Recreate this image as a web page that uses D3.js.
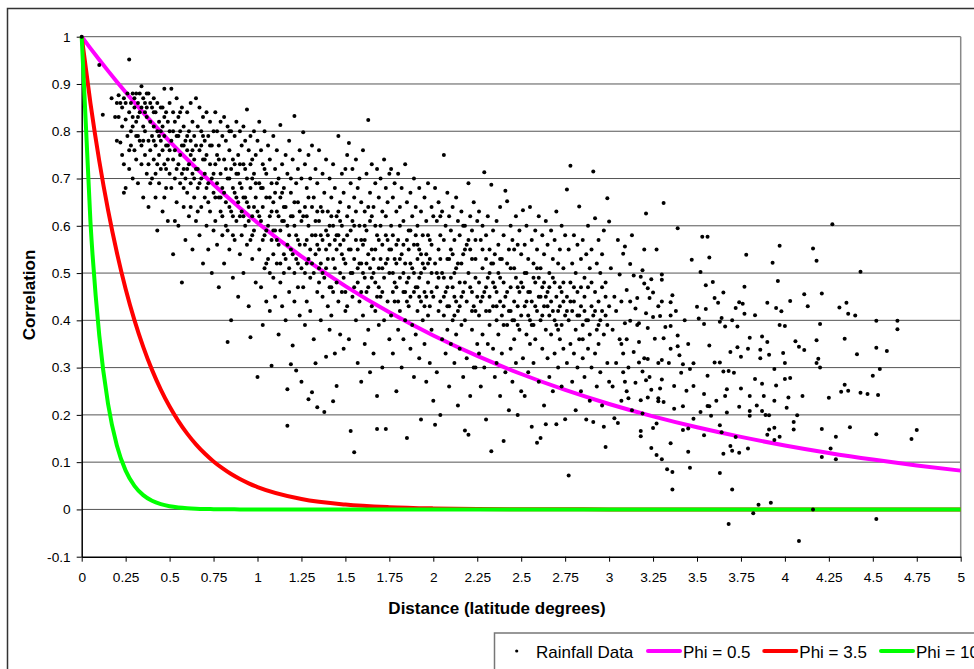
<!DOCTYPE html>
<html>
<head>
<meta charset="utf-8">
<script src="https://cdn.jsdelivr.net/npm/d3@7"></script>
<style>
body { margin: 0; background: #fff; }
svg { display: block; }
text { font-family: Arial, "Liberation Sans", sans-serif; fill: #000; }
</style>
</head>
<body>
<script>
const width = 974;
const height = 669;

const xTicks = [0, 0.25, 0.5, 0.75, 1, 1.25, 1.5, 1.75, 2, 2.25, 2.5, 2.75, 3, 3.25, 3.5, 3.75, 4, 4.25, 4.5, 4.75, 5];
const yTicks = [-0.1, 0, 0.1, 0.2, 0.3, 0.4, 0.5, 0.6, 0.7, 0.8, 0.9, 1];

// fitted curves at these distances
const curveDist = [0, 0.05, 0.1, 0.15, 0.2, 0.25, 0.3, 0.35, 0.4, 0.45, 0.5, 0.55, 0.6, 0.65, 0.7, 0.75, 0.8, 0.85, 0.9, 0.95, 1,
  1.25, 1.5, 1.75, 2, 2.25, 2.5, 2.75, 3, 3.25, 3.5, 3.75, 4, 4.25, 4.5, 4.75, 5];
const phi05 = [1, 0.9753, 0.9512, 0.9277, 0.9048, 0.8825, 0.8607, 0.8395, 0.8187, 0.7985, 0.7788, 0.7596, 0.7408, 0.7225, 0.7047, 0.6873, 0.6703, 0.6538, 0.6376, 0.6219, 0.6065,
  0.5353, 0.4724, 0.4169, 0.3679, 0.3247, 0.2865, 0.2528, 0.2231, 0.1969, 0.1738, 0.1534, 0.1353, 0.1194, 0.1054, 0.093, 0.0821];
const phi35 = [1, 0.8586, 0.7371, 0.6329, 0.5434, 0.4665, 0.4005, 0.3439, 0.2952, 0.2535, 0.2176, 0.1869, 0.1604, 0.1377, 0.1182, 0.1015, 0.0872, 0.0748, 0.0643, 0.0552, 0.0474,
  0.0221, 0.0103, 0.0048, 0.0022, 0.001, 0.0005, 0.0002, 0.0001, 0, 0, 0, 0, 0, 0, 0, 0];
const phi10 = [1, 0.6065, 0.3679, 0.2231, 0.1353, 0.0821, 0.0498, 0.0302, 0.0183, 0.0111, 0.0067, 0.0041, 0.0025, 0.0015, 0.0009, 0.0006, 0.0003, 0.0002, 0.0001, 0.0001, 0,
  0, 0, 0, 0, 0, 0, 0, 0, 0, 0, 0, 0, 0, 0, 0, 0];

// rainfall correlations [distance, correlation]
const rainNear = [
[0,1],[0.1,0.94],[0.12,0.835],[0.17,0.87],[0.19,0.83],[0.2,0.78],
[0.2,0.86],[0.21,0.876],[0.21,0.83],[0.22,0.776],[0.22,0.86],[0.23,0.85],[0.23,0.81],[0.24,0.87],[0.24,0.67],[0.24,0.73],[0.25,0.825],[0.25,0.68],[0.23,0.75],[0.25,0.86],
[0.26,0.88],[0.26,0.79],[0.27,0.952],[0.27,0.84],[0.27,0.72],[0.28,0.86],[0.28,0.8],[0.28,0.77],[0.29,0.88],[0.29,0.83],[0.29,0.7],[0.3,0.87],[0.3,0.85],[0.3,0.76],[0.31,0.88],[0.31,0.82],[0.31,0.74],[0.32,0.86],[0.32,0.79],[0.32,0.69],
[0.33,0.88],[0.33,0.84],[0.33,0.78],[0.34,0.895],[0.34,0.85],[0.34,0.73],[0.35,0.87],[0.35,0.81],[0.35,0.66],[0.36,0.86],[0.36,0.8],[0.36,0.75],[0.37,0.85],[0.37,0.83],[0.37,0.71],[0.38,0.88],[0.38,0.78],[0.38,0.64],[0.39,0.86],[0.39,0.82],
[0.39,0.76],[0.4,0.85],[0.4,0.79],[0.4,0.7],[0.41,0.87],[0.41,0.81],[0.41,0.74],[0.42,0.84],[0.42,0.77],[0.42,0.66],[0.43,0.86],[0.43,0.8],[0.43,0.59],[0.44,0.82],[0.44,0.75],[0.44,0.69],[0.45,0.85],[0.45,0.78],[0.45,0.72],[0.46,0.81],
[0.46,0.76],[0.46,0.63],[0.47,0.89],[0.47,0.79],[0.47,0.73],[0.48,0.84],[0.48,0.77],[0.48,0.68],[0.49,0.82],[0.49,0.74],[0.49,0.61],[0.5,0.86],[0.5,0.8],[0.5,0.71],[0.44,0.79],[0.38,0.73],[0.32,0.83],[0.47,0.66],[0.41,0.78],[0.36,0.84],
[0.29,0.81],[0.45,0.8],[0.49,0.77],[0.27,0.76],[0.42,0.71],
[0.51,0.89],[0.51,0.78],[0.51,0.68],[0.52,0.84],[0.52,0.74],[0.52,0.54],[0.53,0.82],[0.53,0.76],[0.53,0.7],[0.54,0.87],[0.54,0.79],[0.54,0.65],[0.55,0.83],[0.55,0.73],[0.55,0.6],[0.56,0.8],[0.56,0.75],[0.56,0.69],[0.57,0.85],[0.57,0.77],
[0.57,0.48],[0.58,0.81],[0.58,0.72],[0.58,0.64],[0.59,0.78],[0.59,0.7],[0.59,0.57],[0.6,0.84],[0.6,0.76],[0.6,0.67],[0.61,0.8],[0.61,0.73],[0.61,0.62],[0.62,0.86],[0.62,0.75],[0.62,0.69],[0.63,0.82],[0.63,0.71],[0.63,0.55],[0.64,0.79],
[0.64,0.74],[0.64,0.66],[0.65,0.87],[0.65,0.77],[0.65,0.61],[0.66,0.81],[0.66,0.72],[0.66,0.68],[0.67,0.85],[0.67,0.76],[0.67,0.58],[0.68,0.8],[0.68,0.7],[0.68,0.64],[0.69,0.83],[0.69,0.74],[0.69,0.52],[0.7,0.78],[0.7,0.71],[0.7,0.66],
[0.71,0.84],[0.71,0.75],[0.71,0.6],[0.72,0.79],[0.72,0.69],[0.72,0.55],[0.73,0.82],[0.73,0.73],[0.73,0.63],[0.74,0.77],[0.74,0.7],[0.74,0.5],[0.75,0.8],[0.75,0.67],[0.75,0.59],[0.53,0.61],[0.57,0.71],[0.62,0.78],[0.66,0.63],[0.7,0.74],
[0.55,0.79],[0.6,0.72],[0.64,0.7],[0.68,0.77],[0.72,0.65],
[0.76,0.84],[0.76,0.73],[0.76,0.61],[0.77,0.8],[0.77,0.69],[0.77,0.56],[0.78,0.77],[0.78,0.66],[0.78,0.47],[0.79,0.82],[0.79,0.71],[0.79,0.63],[0.8,0.79],[0.8,0.68],[0.8,0.58],[0.81,0.83],[0.81,0.74],[0.81,0.52],[0.82,0.78],[0.82,0.65],
[0.82,0.6],[0.83,0.81],[0.83,0.7],[0.83,0.354],[0.84,0.76],[0.84,0.64],[0.84,0.55],[0.85,0.8],[0.85,0.72],[0.85,0.4],[0.86,0.74],[0.86,0.62],[0.86,0.49],[0.87,0.79],[0.87,0.67],[0.87,0.57],[0.88,0.82],[0.88,0.71],[0.88,0.61],[0.89,0.75],
[0.89,0.65],[0.89,0.45],[0.9,0.8],[0.9,0.69],[0.9,0.54],[0.91,0.77],[0.91,0.63],[0.91,0.58],[0.92,0.81],[0.92,0.73],[0.92,0.5],[0.93,0.78],[0.93,0.66],[0.93,0.6],[0.94,0.846],[0.94,0.7],[0.94,0.56],[0.95,0.76],[0.95,0.64],[0.95,0.43],
[0.96,0.79],[0.96,0.68],[0.96,0.364],[0.97,0.74],[0.97,0.62],[0.97,0.53],[0.98,0.8],[0.98,0.71],[0.98,0.59],[0.99,0.75],[0.99,0.66],[0.99,0.48],[1,0.78],[1,0.63],[1,0.28],[0.78,0.74],[0.81,0.67],[0.84,0.7],[0.87,0.73],[0.9,0.62],
[0.93,0.72],[0.96,0.57],[0.99,0.69],[0.8,0.62],[0.86,0.68],[0.92,0.66],[0.97,0.7],[0.83,0.59],[0.89,0.71],[0.95,0.61],
[0.31,0.79],[0.34,0.77],[0.37,0.88],[0.39,0.69],[0.43,0.73],[0.46,0.85],[0.48,0.72],[0.5,0.76],[0.52,0.8],[0.54,0.72],[0.56,0.84],[0.58,0.68],[0.6,0.79],[0.63,0.76],[0.65,0.72],[0.67,0.69],[0.69,0.79],[0.71,0.68],[0.73,0.77],[0.75,0.71],
[0.77,0.75],[0.79,0.66],[0.82,0.72],[0.84,0.8],[0.86,0.58],[0.88,0.66],[0.9,0.73],[0.92,0.62],[0.94,0.65],[0.96,0.73],[0.98,0.64],[0.85,0.63],[0.91,0.68],[0.97,0.58],[0.76,0.66],[0.62,0.64],[0.47,0.83],[0.41,0.84],[0.35,0.78],[0.58,0.77]
];

const rainMid = [
[1.01,0.82],[1.01,0.69],[1.01,0.55],[1.02,0.76],[1.02,0.61],[1.02,0.47],[1.03,0.73],[1.03,0.64],[1.03,0.39],[1.04,0.8],[1.04,0.58],[1.04,0.51],[1.05,0.71],[1.05,0.66],[1.05,0.44],[1.06,0.77],[1.06,0.6],[1.06,0.53],[1.07,0.74],[1.07,0.62],
[1.07,0.42],[1.08,0.69],[1.08,0.57],[1.08,0.304],[1.09,0.79],[1.09,0.65],[1.09,0.49],[1.1,0.72],[1.1,0.59],[1.1,0.45],[1.11,0.76],[1.11,0.63],[1.11,0.52],[1.12,0.7],[1.12,0.56],[1.12,0.37],[1.13,0.813],[1.13,0.66],[1.13,0.48],[1.14,0.73],
[1.14,0.61],[1.14,0.43],[1.15,0.68],[1.15,0.54],[1.15,0.5],[1.16,0.75],[1.16,0.64],[1.16,0.4],[1.17,0.71],[1.17,0.254],[1.17,0.177],[1.18,0.78],[1.18,0.58],[1.18,0.46],[1.19,0.67],[1.19,0.55],[1.19,0.307],[1.2,0.74],[1.2,0.62],[1.2,0.347],
[1.21,0.832],[1.21,0.6],[1.21,0.44],[1.22,0.69],[1.22,0.53],[1.22,0.294],[1.23,0.72],[1.23,0.57],[1.23,0.47],[1.24,0.76],[1.24,0.63],[1.24,0.41],[1.25,0.7],[1.25,0.51],[1.25,0.27],[1.02,0.68],[1.05,0.59],[1.08,0.63],[1.11,0.57],[1.14,0.67],
[1.17,0.6],[1.2,0.54],[1.23,0.65],[1.04,0.72],[1.07,0.5],[1.1,0.67],[1.13,0.59],[1.16,0.53],[1.19,0.62],[1.22,0.58],[1.03,0.57],[1.09,0.54],[1.15,0.61],[1.21,0.5],[1.24,0.56],
[1.26,0.798],[1.26,0.62],[1.26,0.47],[1.27,0.73],[1.27,0.56],[1.27,0.39],[1.28,0.68],[1.28,0.52],[1.28,0.44],[1.29,0.75],[1.29,0.6],[1.29,0.233],[1.3,0.7],[1.3,0.55],[1.3,0.42],[1.31,0.77],[1.31,0.58],[1.31,0.248],[1.32,0.66],[1.32,0.5],
[1.32,0.36],[1.33,0.72],[1.33,0.54],[1.33,0.309],[1.34,0.69],[1.34,0.46],[1.34,0.216],[1.35,0.76],[1.35,0.61],[1.35,0.48],[1.36,0.64],[1.36,0.52],[1.36,0.4],[1.37,0.71],[1.37,0.57],[1.37,0.45],[1.38,0.67],[1.38,0.49],[1.38,0.206],[1.39,0.74],
[1.39,0.59],[1.39,0.323],[1.4,0.63],[1.4,0.53],[1.4,0.43],[1.41,0.7],[1.41,0.56],[1.41,0.38],[1.42,0.66],[1.42,0.47],[1.42,0.41],[1.43,0.73],[1.43,0.6],[1.43,0.229],[1.44,0.68],[1.44,0.51],[1.44,0.33],[1.45,0.62],[1.45,0.55],[1.45,0.261],
[1.46,0.79],[1.46,0.58],[1.46,0.44],[1.47,0.65],[1.47,0.5],[1.47,0.37],[1.48,0.71],[1.48,0.54],[1.48,0.46],[1.49,0.67],[1.49,0.57],[1.49,0.34],[1.5,0.72],[1.5,0.52],[1.5,0.42],[1.27,0.64],[1.3,0.49],[1.33,0.61],[1.36,0.58],[1.39,0.51],
[1.42,0.62],[1.45,0.48],[1.48,0.6],[1.28,0.57],[1.31,0.64],[1.34,0.56],[1.37,0.5],[1.4,0.58],[1.43,0.53],[1.46,0.63],[1.49,0.49],[1.29,0.53],[1.35,0.55],[1.41,0.47],[1.47,0.56],
[1.51,0.75],[1.51,0.58],[1.51,0.43],[1.52,0.775],[1.52,0.55],[1.52,0.36],[1.53,0.69],[1.53,0.5],[1.53,0.166],[1.54,0.72],[1.54,0.61],[1.54,0.45],[1.55,0.66],[1.55,0.53],[1.55,0.121],[1.56,0.74],[1.56,0.57],[1.56,0.4],[1.57,0.68],[1.57,0.48],
[1.57,0.31],[1.58,0.7],[1.58,0.6],[1.58,0.44],[1.59,0.65],[1.59,0.52],[1.59,0.27],[1.6,0.76],[1.6,0.56],[1.6,0.41],[1.61,0.63],[1.61,0.49],[1.61,0.35],[1.62,0.71],[1.62,0.59],[1.62,0.46],[1.63,0.824],[1.63,0.54],[1.63,0.38],[1.64,0.67],
[1.64,0.51],[1.64,0.29],[1.65,0.73],[1.65,0.62],[1.65,0.43],[1.66,0.64],[1.66,0.5],[1.66,0.33],[1.67,0.69],[1.67,0.55],[1.67,0.42],[1.68,0.72],[1.68,0.58],[1.68,0.24],[1.69,0.66],[1.69,0.47],[1.69,0.39],[1.7,0.7],[1.7,0.53],[1.7,0.45],
[1.71,0.63],[1.71,0.56],[1.71,0.3],[1.72,0.74],[1.72,0.49],[1.72,0.4],[1.73,0.68],[1.73,0.52],[1.73,0.17],[1.74,0.65],[1.74,0.57],[1.74,0.44],[1.75,0.71],[1.75,0.5],[1.75,0.36],[1.52,0.64],[1.55,0.47],[1.58,0.52],[1.61,0.57],[1.64,0.61],
[1.67,0.48],[1.7,0.6],[1.73,0.58],[1.53,0.59],[1.56,0.63],[1.59,0.46],[1.62,0.52],[1.65,0.55],[1.68,0.45],[1.71,0.51],[1.74,0.53],[1.57,0.55],[1.63,0.47],[1.69,0.57],[1.54,0.5],
[1.76,0.72],[1.76,0.55],[1.76,0.41],[1.77,0.66],[1.77,0.5],[1.77,0.33],[1.78,0.69],[1.78,0.53],[1.78,0.44],[1.79,0.63],[1.79,0.47],[1.79,0.25],[1.8,0.71],[1.8,0.57],[1.8,0.38],[1.81,0.64],[1.81,0.49],[1.81,0.42],[1.82,0.68],[1.82,0.54],
[1.82,0.3],[1.83,0.61],[1.83,0.46],[1.83,0.36],[1.84,0.73],[1.84,0.52],[1.84,0.4],[1.85,0.65],[1.85,0.48],[1.85,0.151],[1.86,0.59],[1.86,0.55],[1.86,0.43],[1.87,0.67],[1.87,0.45],[1.87,0.34],[1.88,0.62],[1.88,0.51],[1.88,0.39],[1.89,0.7],
[1.89,0.56],[1.89,0.28],[1.9,0.64],[1.9,0.47],[1.9,0.37],[1.91,0.6],[1.91,0.53],[1.91,0.42],[1.92,0.68],[1.92,0.49],[1.92,0.32],[1.93,0.63],[1.93,0.44],[1.93,0.19],[1.94,0.58],[1.94,0.52],[1.94,0.4],[1.95,0.66],[1.95,0.46],[1.95,0.35],
[1.96,0.61],[1.96,0.54],[1.96,0.27],[1.97,0.69],[1.97,0.48],[1.97,0.41],[1.98,0.57],[1.98,0.43],[1.98,0.31],[1.99,0.64],[1.99,0.5],[1.99,0.38],[2,0.62],[2,0.45],[2,0.23],[1.77,0.58],[1.8,0.44],[1.83,0.56],[1.86,0.49],[1.89,0.46],
[1.92,0.55],[1.95,0.51],[1.98,0.53],[1.78,0.48],[1.81,0.6],[1.84,0.46],[1.87,0.52],[1.9,0.58],[1.93,0.5],[1.96,0.45],[1.99,0.56],[1.79,0.52],[1.85,0.57],[1.91,0.47],[1.97,0.58],[1.68,0.17],
[1.01,0.62],[1.03,0.68],[1.05,0.52],[1.07,0.66],[1.09,0.59],[1.11,0.69],[1.13,0.52],[1.15,0.64],[1.17,0.56],[1.19,0.7],[1.21,0.65],[1.23,0.52],[1.25,0.61],[1.27,0.5],[1.29,0.66],[1.31,0.52],[1.33,0.58],[1.35,0.51],[1.37,0.63],[1.39,0.55],
[1.41,0.6],[1.43,0.46],[1.45,0.58],[1.47,0.61],[1.49,0.53],[1.51,0.62],[1.53,0.55],[1.55,0.6],[1.57,0.51],[1.59,0.57],[1.61,0.6],[1.63,0.64],[1.65,0.49],[1.67,0.6],[1.69,0.51],[1.71,0.46],[1.73,0.62],[1.75,0.55],[1.77,0.46],[1.79,0.56],
[1.81,0.53],[1.83,0.5],[1.85,0.44],[1.87,0.59],[1.89,0.5],[1.91,0.56],[1.93,0.54],[1.95,0.43],[1.97,0.52],[1.99,0.46],[1.12,0.62],[1.28,0.62],[1.44,0.57],[1.6,0.5],[1.76,0.6],[1.92,0.45],[1.18,0.51],[1.34,0.63],[1.5,0.46],[1.66,0.53]
];

const rainFar = [
[2.01,0.68],[2.01,0.52],[2.01,0.179],[2.02,0.61],[2.02,0.47],[2.02,0.29],[2.03,0.65],[2.03,0.55],[2.03,0.42],[2.04,0.58],[2.04,0.44],[2.04,0.2],[2.05,0.63],[2.05,0.5],[2.05,0.36],[2.06,0.75],[2.06,0.57],[2.06,0.41],[2.07,0.6],[2.07,0.46],
[2.07,0.33],[2.08,0.67],[2.08,0.53],[2.08,0.38],[2.09,0.62],[2.09,0.43],[2.09,0.26],[2.1,0.59],[2.1,0.49],[2.1,0.35],[2.11,0.64],[2.11,0.54],[2.11,0.4],[2.12,0.57],[2.12,0.45],[2.12,0.31],[2.13,0.66],[2.13,0.51],[2.13,0.37],[2.14,0.61],
[2.14,0.42],[2.14,0.22],[2.15,0.58],[2.15,0.48],[2.15,0.34],[2.16,0.63],[2.16,0.52],[2.16,0.39],[2.17,0.6],[2.17,0.46],[2.17,0.28],[2.18,0.6],[2.18,0.55],[2.18,0.167],[2.19,0.56],[2.19,0.44],[2.19,0.32],[2.2,0.69],[2.2,0.5],[2.2,0.158],
[2.21,0.62],[2.21,0.47],[2.21,0.24],[2.22,0.59],[2.22,0.53],[2.22,0.38],[2.23,0.65],[2.23,0.43],[2.23,0.3],[2.24,0.57],[2.24,0.49],[2.24,0.3],[2.25,0.61],[2.25,0.45],[2.25,0.35],[2.03,0.49],[2.06,0.45],[2.09,0.53],[2.12,0.5],[2.15,0.43],
[2.18,0.48],[2.21,0.55],[2.24,0.42],[2.04,0.53],[2.08,0.47],[2.13,0.44],[2.17,0.54],[2.22,0.46],[2.11,0.47],
[2.26,0.63],[2.26,0.48],[2.26,0.33],[2.27,0.57],[2.27,0.44],[2.27,0.26],[2.28,0.6],[2.28,0.51],[2.28,0.37],[2.29,0.713],[2.29,0.46],[2.29,0.3],[2.3,0.58],[2.3,0.42],[2.3,0.19],[2.31,0.62],[2.31,0.49],[2.31,0.35],[2.32,0.55],[2.32,0.45],
[2.32,0.39],[2.33,0.687],[2.33,0.52],[2.33,0.123],[2.34,0.59],[2.34,0.43],[2.34,0.34],[2.35,0.54],[2.35,0.47],[2.35,0.28],[2.36,0.61],[2.36,0.4],[2.36,0.31],[2.37,0.56],[2.37,0.5],[2.37,0.37],[2.38,0.64],[2.38,0.44],[2.38,0.24],[2.39,0.53],
[2.39,0.41],[2.39,0.33],[2.4,0.58],[2.4,0.48],[2.4,0.145],[2.41,0.674],[2.41,0.45],[2.41,0.29],[2.42,0.652],[2.42,0.52],[2.42,0.39],[2.43,0.55],[2.43,0.42],[2.43,0.21],[2.44,0.6],[2.44,0.47],[2.44,0.34],[2.45,0.57],[2.45,0.4],[2.45,0.27],
[2.46,0.51],[2.46,0.44],[2.46,0.36],[2.47,0.62],[2.47,0.49],[2.47,0.31],[2.48,0.56],[2.48,0.43],[2.48,0.2],[2.49,0.59],[2.49,0.46],[2.49,0.38],[2.5,0.54],[2.5,0.41],[2.5,0.25],[2.28,0.45],[2.32,0.5],[2.36,0.46],[2.4,0.43],[2.44,0.51],
[2.48,0.47],[2.3,0.53],[2.38,0.49],[2.46,0.4],[2.34,0.48],
[2.51,0.633],[2.51,0.47],[2.51,0.32],[2.52,0.56],[2.52,0.43],[2.52,0.24],[2.53,0.6],[2.53,0.5],[2.53,0.37],[2.54,0.53],[2.54,0.41],[2.54,0.29],[2.55,0.64],[2.55,0.46],[2.55,0.35],[2.56,0.57],[2.56,0.44],[2.56,0.175],[2.57,0.52],[2.57,0.39],
[2.57,0.31],[2.58,0.59],[2.58,0.48],[2.58,0.36],[2.59,0.55],[2.59,0.42],[2.59,0.141],[2.6,0.62],[2.6,0.45],[2.6,0.27],[2.61,0.51],[2.61,0.4],[2.61,0.151],[2.62,0.58],[2.62,0.47],[2.62,0.34],[2.63,0.54],[2.63,0.43],[2.63,0.22],[2.64,0.61],
[2.64,0.38],[2.64,0.18],[2.65,0.56],[2.65,0.46],[2.65,0.32],[2.66,0.5],[2.66,0.41],[2.66,0.28],[2.67,0.59],[2.67,0.44],[2.67,0.37],[2.68,0.53],[2.68,0.49],[2.68,0.25],[2.69,0.57],[2.69,0.4],[2.69,0.33],[2.7,0.63],[2.7,0.45],[2.7,0.18],
[2.71,0.52],[2.71,0.42],[2.71,0.3],[2.72,0.55],[2.72,0.47],[2.72,0.36],[2.73,0.6],[2.73,0.39],[2.73,0.26],[2.74,0.51],[2.74,0.44],[2.74,0.34],[2.75,0.58],[2.75,0.41],[2.75,0.191],[2.53,0.44],[2.57,0.49],[2.61,0.45],[2.65,0.43],[2.69,0.48],
[2.73,0.46],[2.55,0.4],[2.63,0.48],[2.71,0.38],[2.59,0.51],
[2.76,0.677],[2.76,0.45],[2.76,0.31],[2.77,0.55],[2.77,0.4],[2.77,0.072],[2.78,0.727],[2.78,0.48],[2.78,0.35],[2.79,0.52],[2.79,0.42],[2.79,0.27],[2.8,0.58],[2.8,0.44],[2.8,0.33],[2.81,0.5],[2.81,0.38],[2.81,0.21],[2.82,0.56],[2.82,0.46],
[2.82,0.3],[2.83,0.641],[2.83,0.41],[2.83,0.36],[2.84,0.53],[2.84,0.43],[2.84,0.25],[2.85,0.57],[2.85,0.39],[2.85,0.32],[2.86,0.49],[2.86,0.45],[2.86,0.28],[2.87,0.54],[2.87,0.4],[2.87,0.19],[2.88,0.6],[2.88,0.47],[2.88,0.34],[2.89,0.51],
[2.89,0.37],[2.89,0.23],[2.9,0.55],[2.9,0.43],[2.9,0.3],[2.91,0.715],[2.91,0.41],[2.91,0.185],[2.92,0.616],[2.92,0.46],[2.92,0.33],[2.93,0.52],[2.93,0.38],[2.93,0.26],[2.94,0.57],[2.94,0.44],[2.94,0.35],[2.95,0.5],[2.95,0.4],[2.95,0.29],
[2.96,0.54],[2.96,0.42],[2.96,0.22],[2.97,0.59],[2.97,0.37],[2.97,0.175],[2.98,0.48],[2.98,0.45],[2.98,0.132],[2.99,0.658],[2.99,0.39],[2.99,0.31],[3,0.609],[3,0.43],[3,0.27],
[2.02,0.5],[2.04,0.62],[2.06,0.49],[2.08,0.43],[2.1,0.55],[2.12,0.41],[2.14,0.52],[2.16,0.45],[2.18,0.4],[2.2,0.57],[2.22,0.42],[2.24,0.53],[2.26,0.41],[2.28,0.55],[2.3,0.47],[2.32,0.42],[2.34,0.52],[2.36,0.43],[2.38,0.53],[2.4,0.39],
[2.42,0.46],[2.44,0.42],[2.46,0.55],[2.48,0.39],[2.5,0.48],[2.52,0.5],[2.54,0.46],[2.56,0.39],[2.58,0.43],[2.6,0.49],[2.62,0.41],[2.64,0.45],[2.66,0.47],[2.68,0.42],[2.7,0.39],[2.72,0.43],[2.74,0.48],[2.76,0.42],[2.78,0.44],[2.8,0.47],
[2.82,0.41],[2.84,0.47],[2.86,0.42],[2.88,0.4],[2.9,0.48],[2.92,0.42],[2.94,0.39],[2.96,0.47],[2.98,0.41],[2.85,0.36]
];

const rainTail = [
[3.06,0.497],[3.07,0.44],[3.08,0.541],[3.09,0.556],[3.09,0.394],[3.1,0.464],[3.12,0.519],[3.12,0.44],[3.12,0.399],[3.14,0.495],[3.15,0.425],[3.16,0.447],[3.17,0.394],[3.18,0.492],[3.19,0.506],[3.2,0.478],[3.21,0.415],[3.21,0.626],[3.22,0.468],[3.22,0.384],
[3.23,0.447],[3.24,0.487],[3.25,0.459],[3.25,0.407],[3.07,0.35],[3.08,0.33],[3.1,0.36],[3.14,0.333],[3.17,0.354],[3.17,0.311],[3.22,0.318],[3.2,0.32],[3.19,0.292],[3.21,0.273],[3.23,0.28],[3.24,0.253],[3.11,0.235],[3.1,0.25],[3.15,0.268],[3.18,0.231],
[3.22,0.237],[3.08,0.29],[3.09,0.27],[3.07,0.23],[3.03,0.193],[3.05,0.183],[3.18,0.166],[3.18,0.155],[3.19,0.203],[3.25,0.172],[3.24,0.13],[3.01,0.51],[3.02,0.38],[3.03,0.45],[3.04,0.31],[3.05,0.57],[3.04,0.42],[3.02,0.26],[3.06,0.36],[3.11,0.3],
[3.13,0.21],[3.16,0.39],[3.2,0.55],[3.13,0.58],
[3.26,0.361],[3.27,0.55],[3.27,0.182],[3.27,0.115],[3.28,0.31],[3.28,0.235],[3.28,0.229],[3.29,0.409],[3.29,0.256],[3.3,0.497],[3.3,0.486],[3.3,0.44],[3.3,0.316],[3.3,0.275],[3.3,0.106],[3.31,0.648],[3.31,0.362],[3.31,0.227],[3.32,0.386],[3.33,0.085],
[3.35,0.41],[3.35,0.388],[3.35,0.438],[3.35,0.34],[3.35,0.14],[3.36,0.453],[3.36,0.079],[3.36,0.042],[3.37,0.213],[3.37,0.261],[3.39,0.595],[3.39,0.345],[3.39,0.368],[3.4,0.326],[3.41,0.289],[3.42,0.307],[3.42,0.218],[3.42,0.168],[3.44,0.251],[3.45,0.35],
[3.45,0.171],[3.45,0.122],[3.46,0.297],[3.46,0.088],[3.47,0.528],[3.48,0.309],[3.48,0.261],[3.48,0.192],[3.5,0.429],[3.34,0.31],[3.38,0.42],[3.43,0.4],[3.28,0.43],
[3.51,0.404],[3.52,0.502],[3.52,0.206],[3.53,0.577],[3.54,0.392],[3.54,0.244],[3.54,0.157],[3.55,0.474],[3.55,0.424],[3.56,0.577],[3.56,0.283],[3.56,0.219],[3.57,0.533],[3.57,0.347],[3.57,0.218],[3.58,0.198],[3.59,0.481],[3.6,0.447],[3.6,0.311],[3.62,0.437],
[3.63,0.311],[3.63,0.397],[3.63,0.178],[3.63,0.077],[3.64,0.405],[3.64,0.163],[3.65,0.459],[3.65,0.292],[3.65,0.118],[3.66,0.387],[3.67,0.254],[3.67,0.205],[3.68,0.293],[3.68,-0.031],[3.69,0.333],[3.69,0.134],[3.7,0.4],[3.7,0.124],[3.7,0.042],[3.71,0.289],
[3.72,0.426],[3.72,0.153],[3.73,0.343],[3.73,0.387],[3.74,0.438],[3.74,0.217],[3.74,0.12],[3.75,0.323],[3.75,0.256],[3.61,0.23],[3.66,0.24],
[3.76,0.435],[3.77,0.414],[3.77,0.471],[3.78,0.539],[3.79,0.34],[3.79,0.129],[3.8,0.363],[3.8,0.24],[3.8,0.208],[3.8,0.198],[3.82,-0.008],[3.83,0.411],[3.83,0.276],[3.85,0.01],[3.86,0.338],[3.86,0.32],[3.87,0.366],[3.87,0.266],[3.87,0.208],[3.88,0.24],
[3.9,0.354],[3.9,0.437],[3.9,0.158],[3.91,0.327],[3.91,0.199],[3.91,0.169],[3.92,0.014],[3.93,0.522],[3.94,0.297],[3.94,0.23],[3.94,0.173],[3.94,0.147],[3.95,0.426],[3.95,0.262],[3.96,0.483],[3.97,0.558],[3.97,0.39],[3.97,0.154],[3.98,0.419],[3.99,0.331],
[3.84,0.22],[3.89,0.2],
[4,0.388],[4,0.31],[4,0.276],[4.01,0.215],[4.02,0.237],[4.03,0.278],[4.03,0.441],[4.05,0.185],[4.05,0.169],[4.06,0.356],[4.07,0.199],[4.08,0.344],[4.08,-0.067],[4.11,0.337],[4.11,0.455],[4.13,0.43],[4.16,0.552],[4.16,0],[4.18,0.358],[4.18,0.526],
[4.18,0.31],[4.19,0.319],[4.2,0.392],[4.2,0.3],[4.21,0.457],[4.21,0.17],[4.21,0.111],[4.25,0.236],[4.1,0.24],
[4.26,0.129],[4.27,0.603],[4.29,0.154],[4.29,0.106],[4.31,0.427],[4.32,0.249],[4.34,0.361],[4.34,0.264],[4.35,0.437],[4.36,0.414],[4.36,0.251],[4.37,0.174],[4.4,0.41],[4.41,0.328],[4.43,0.503],[4.43,0.247],[4.47,0.244],[4.5,0.283],
[4.52,0.399],[4.52,0.342],[4.52,0.159],[4.52,-0.02],[4.53,0.242],[4.54,0.297],[4.58,0.335],[4.64,0.399],[4.64,0.381],[4.72,0.149],[4.75,0.168]
];

const rainfall = rainNear.concat(rainMid, rainFar, rainTail);

const legendItems = [
  { label: "Rainfall Data", type: "dot", color: "#000" },
  { label: "Phi = 0.5", type: "line", color: "#ff00ff" },
  { label: "Phi = 3.5", type: "line", color: "#ff0000" },
  { label: "Phi = 10", type: "line", color: "#00ff00" }
];

const plot = { left: 81.7, right: 960.7, top: 36.7, bottom: 556.7 };

const svg = d3.select("body").append("svg")
  .attr("width", width)
  .attr("height", height);

// chart area frame
svg.append("rect")
  .attr("x", 7.5).attr("y", 8.5)
  .attr("width", 1000).attr("height", 700)
  .attr("fill", "#fff")
  .attr("stroke", "#333")
  .attr("stroke-width", 1.5);

const x = d3.scaleLinear().domain([0, 5]).range([plot.left, plot.right]);
const y = d3.scaleLinear().domain([-0.1, 1]).range([plot.bottom, plot.top]);

// gridlines
svg.append("g")
  .selectAll("line")
  .data(yTicks.filter(d => d >= 0))
  .enter()
  .append("line")
  .attr("x1", plot.left).attr("x2", plot.right)
  .attr("y1", d => y(d)).attr("y2", d => y(d))
  .attr("stroke", "#555")
  .attr("stroke-width", 1);

// plot area right border
svg.append("line")
  .attr("x1", plot.right).attr("x2", plot.right)
  .attr("y1", plot.top).attr("y2", plot.bottom)
  .attr("stroke", "#888")
  .attr("stroke-width", 1.5);

const yAxis = svg.append("g")
  .attr("transform", "translate(" + plot.left + ",0)")
  .call(d3.axisLeft(y).tickValues(yTicks).tickFormat(d => String(d)).tickSize(5).tickSizeOuter(0).tickPadding(6));

const xAxis = svg.append("g")
  .attr("transform", "translate(0," + plot.bottom + ")")
  .call(d3.axisBottom(x).tickValues(xTicks).tickFormat(d => String(d)).tickSize(5).tickSizeOuter(0).tickPadding(11));

[yAxis, xAxis].forEach(g => {
  g.select(".domain").attr("stroke", "#000").attr("stroke-width", 1.5);
  g.selectAll(".tick line").attr("stroke", "#000").attr("stroke-width", 1);
  g.selectAll("text")
    .attr("font-family", "Arial, 'Liberation Sans', sans-serif")
    .attr("font-size", "13.7px")
    .attr("fill", "#000");
});

// fitted curves
const curves = [
  { values: phi05, color: "#ff00ff" },
  { values: phi35, color: "#ff0000" },
  { values: phi10, color: "#00ff00" }
];
const line = d3.line()
  .x((d, i) => x(curveDist[i]))
  .y(d => y(d))
  .curve(d3.curveMonotoneX);

svg.append("g")
  .selectAll("path")
  .data(curves)
  .enter()
  .append("path")
  .attr("d", d => line(d.values))
  .attr("fill", "none")
  .attr("stroke", d => d.color)
  .attr("stroke-width", 4)
  .attr("stroke-linejoin", "round");

// scatter
svg.append("g")
  .selectAll("circle")
  .data(rainfall)
  .enter()
  .append("circle")
  .attr("cx", d => x(d[0]))
  .attr("cy", d => y(d[1]))
  .attr("r", 2)
  .attr("fill", "#000");

// axis titles
svg.append("text")
  .attr("x", 497).attr("y", 614)
  .attr("text-anchor", "middle")
  .attr("font-size", "17px")
  .attr("font-weight", "bold")
  .text("Distance (latitude degrees)");

svg.append("text")
  .attr("transform", "translate(35,295) rotate(-90)")
  .attr("text-anchor", "middle")
  .attr("font-size", "17px")
  .attr("font-weight", "bold")
  .text("Correlation");

// legend
const legend = svg.append("g");
legend.append("rect")
  .attr("x", 494.5).attr("y", 633)
  .attr("width", 600).attr("height", 80)
  .attr("fill", "#fff")
  .attr("stroke", "#777")
  .attr("stroke-width", 1.5);

const legendX = [516.7, 648, 764.3, 881];
legendItems.forEach((item, i) => {
  const lx = legendX[i];
  let tx;
  if (item.type === "dot") {
    legend.append("circle").attr("cx", lx).attr("cy", 651).attr("r", 1.6).attr("fill", item.color);
    tx = 536;
  } else {
    legend.append("line")
      .attr("x1", lx).attr("x2", lx + 32)
      .attr("y1", 651).attr("y2", 651)
      .attr("stroke", item.color)
      .attr("stroke-width", 4)
      .attr("stroke-linecap", "round");
    tx = lx + 35;
  }
  legend.append("text")
    .attr("x", tx).attr("y", 658)
    .attr("font-size", "17px")
    .text(item.label);
});
</script>
</body>
</html>
